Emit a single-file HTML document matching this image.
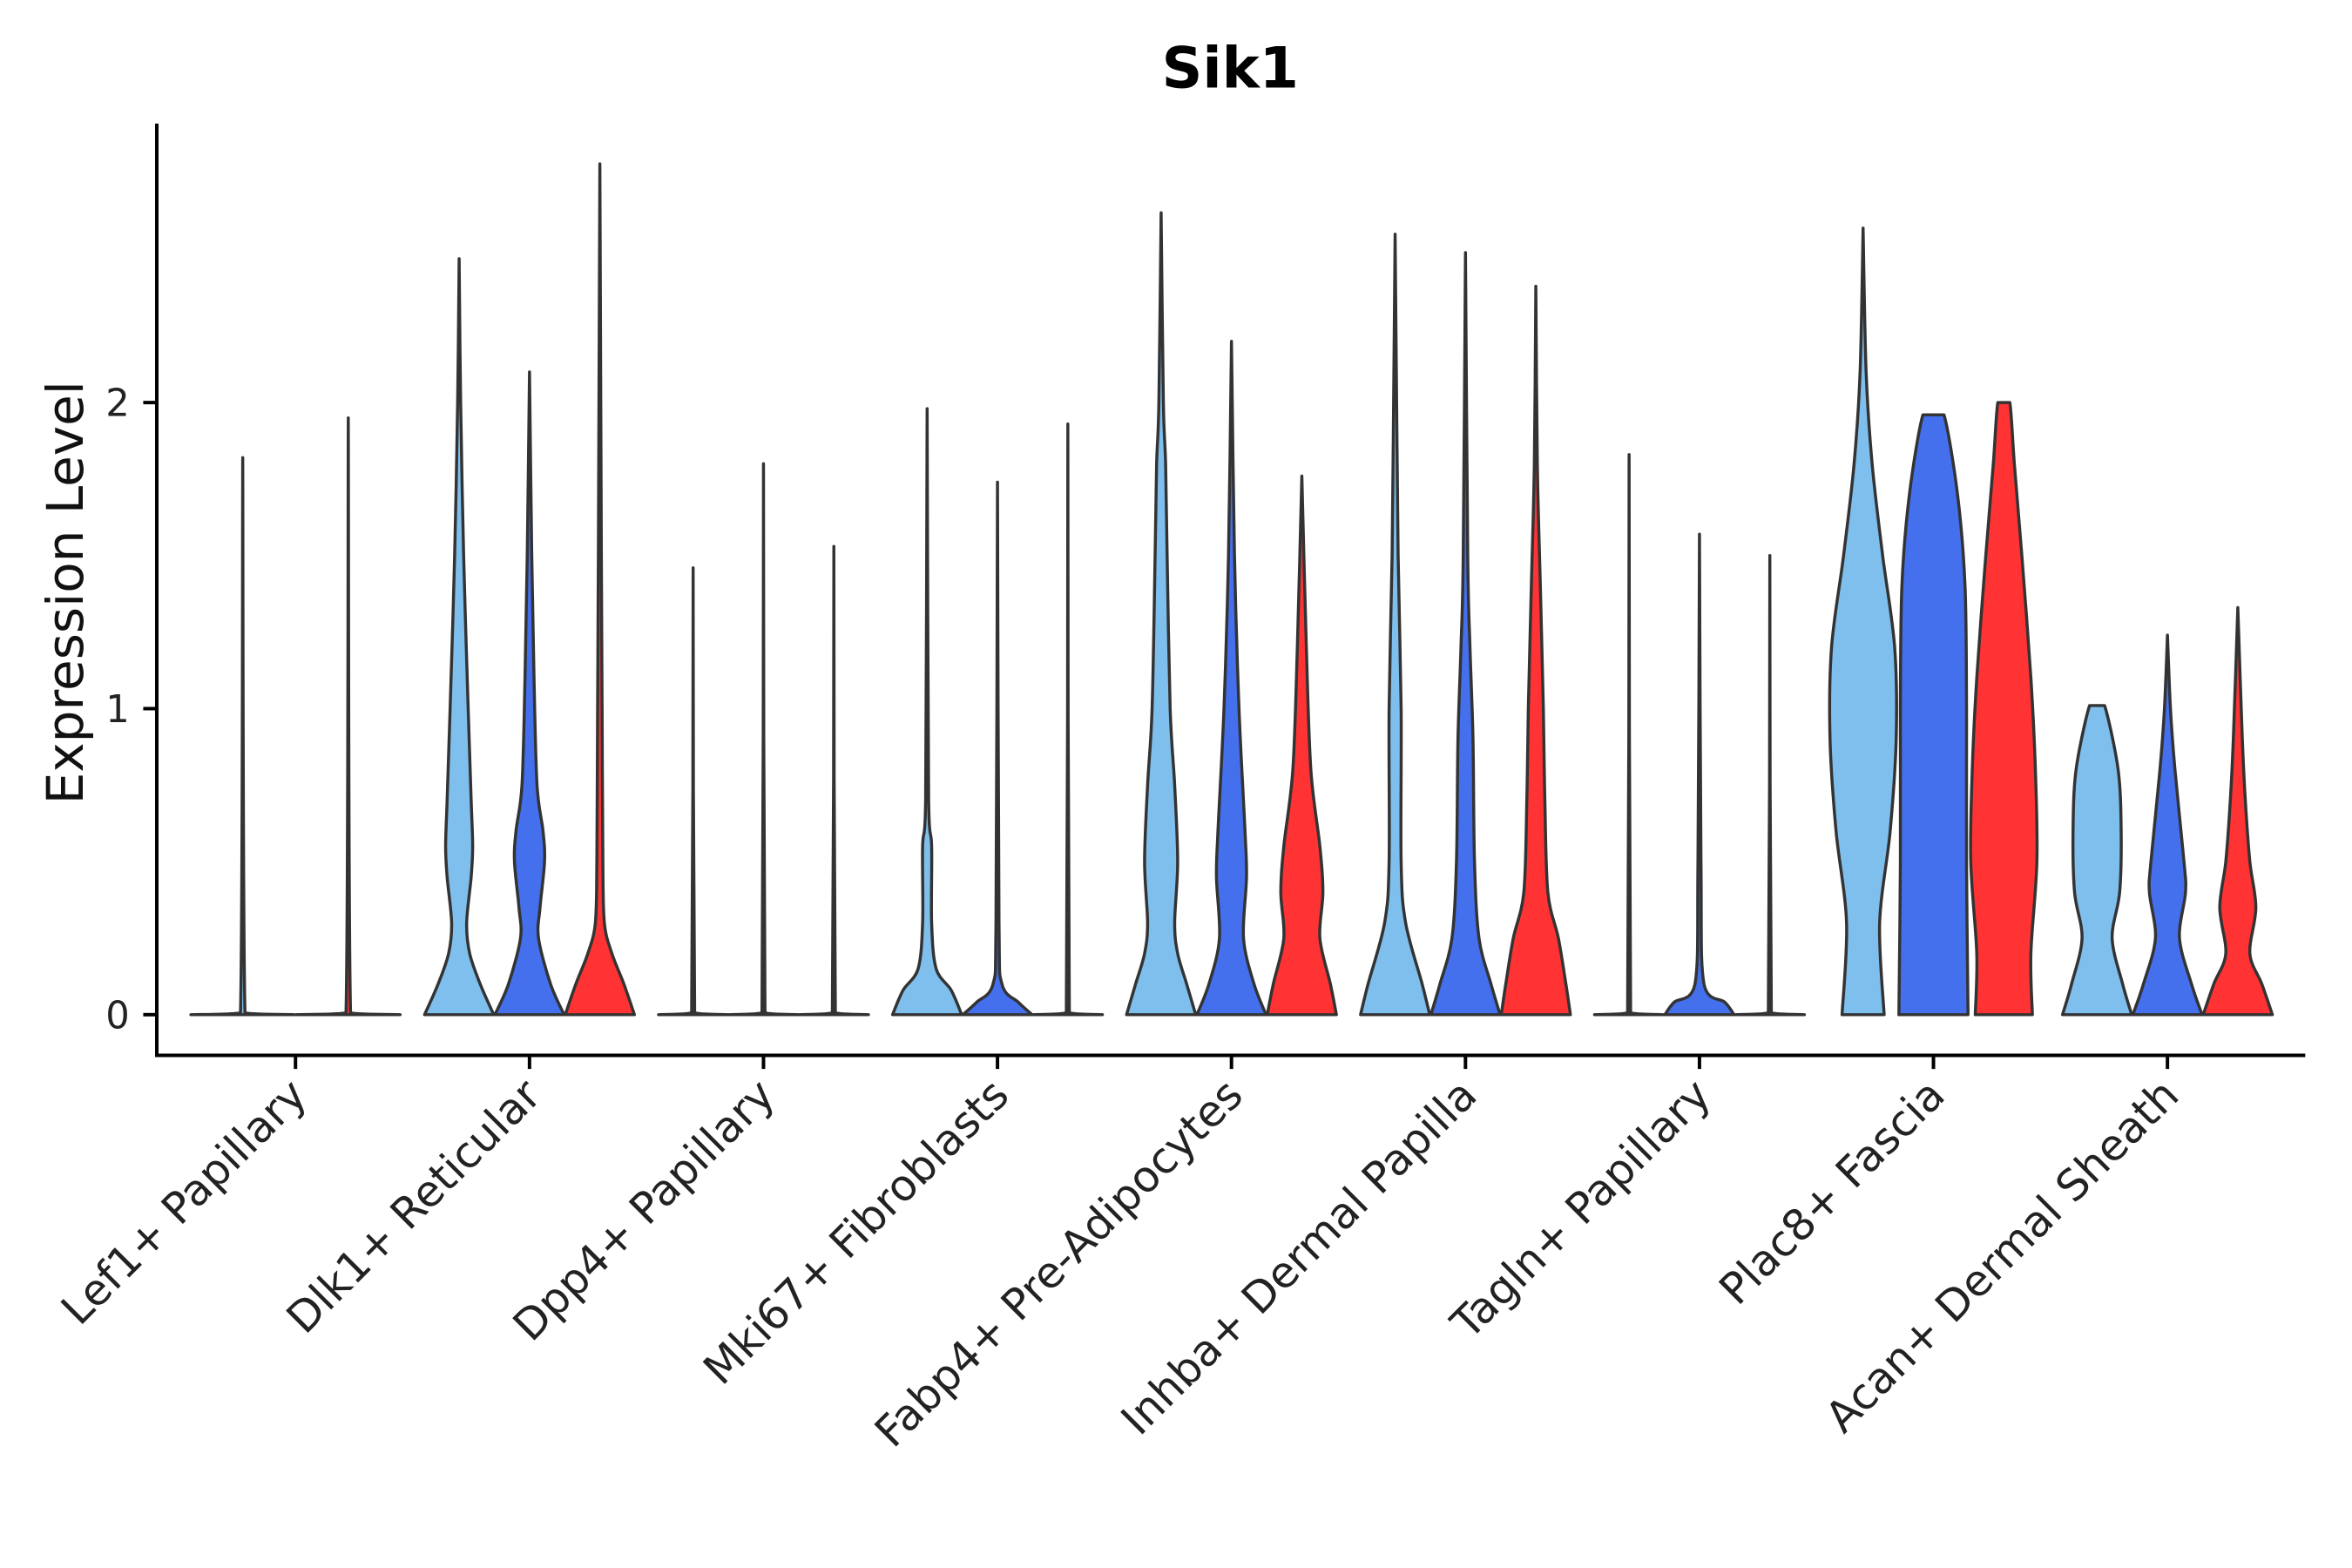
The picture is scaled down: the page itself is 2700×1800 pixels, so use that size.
<!DOCTYPE html>
<html><head><meta charset="utf-8"><style>
html,body{margin:0;padding:0;background:#fff;}
svg{display:block;font-family:"DejaVu Sans","Liberation Sans",sans-serif;}
</style></head><body>
<svg id="chart" width="2700" height="1800" viewBox="0 0 1560 1040" xmlns="http://www.w3.org/2000/svg">
<rect width="1560" height="1040" fill="#fff"/>
<text x="816" y="58" text-anchor="middle" font-size="37.5" font-weight="bold">Sik1</text>
<text transform="translate(55,393) rotate(-90)" text-anchor="middle" font-size="33.5" fill="#111">Expression Level</text>
<g id="marks"></g>
<g id="axes"></g>
</svg>
<script>
const categories = ["Lef1+ Papillary","Dlk1+ Reticular","Dpp4+ Papillary","Mki67+ Fibroblasts","Fabp4+ Pre-Adipocytes","Inhba+ Dermal Papilla","Tagln+ Papillary","Plac8+ Fascia","Acan+ Dermal Sheath"];
const yTicks = [0,1,2];
const seriesColors = ["#7fbfed","#4470ee","#ff3333"];
const flat = m => [[0,23],[0.006,1],[m,0]];
const lightProfiles = [
 flat(1.82),
 [[0,23],[0.1,14],[0.2,7],[0.3,5],[0.45,8],[0.55,9],[0.7,8],[1.0,6],[1.5,3],[2.0,1],[2.47,0]],
 flat(1.46),
 [[0,23],[0.08,16],[0.15,6],[0.3,3],[0.55,3],[0.7,1],[1.98,0]],
 [[0,23],[0.1,17],[0.2,11],[0.3,9],[0.5,11],[0.75,9],[1.0,6],[1.5,4],[1.8,3],[2.0,1.5],[2.62,0]],
 [[0,23],[0.1,18],[0.3,7],[0.5,4],[1.0,4],[1.5,2],[2.0,1],[2.55,0]],
 flat(1.83),
 [[0,14],[0.3,11],[0.6,18],[0.9,22],[1.2,21],[1.5,13],[1.8,6],[2.1,2],[2.57,0]],
 [[0,23],[0.1,17],[0.25,10],[0.4,15],[0.6,16],[0.8,14],[1.01,5],[1.01,0]]
];
const blueProfiles = [
 null,
 [[0,23],[0.1,14],[0.25,6],[0.35,7],[0.5,10],[0.6,9],[0.75,5],[1.1,3],[1.5,1.5],[2.1,0]],
 flat(1.80),
 [[0,23],[0.04,14],[0.1,3],[0.3,1],[1.74,0]],
 [[0,23],[0.1,15],[0.25,8],[0.45,10],[0.6,9],[1.0,5],[1.5,2],[2.2,0]],
 [[0,23],[0.1,17],[0.25,9],[0.5,6],[0.9,5],[1.2,3],[1.5,1.5],[2.49,0]],
 [[0,23],[0.04,17],[0.1,3],[0.5,1],[1.57,0]],
 [[0,23],[0.5,22],[1.0,22],[1.4,21],[1.7,16],[1.96,7],[1.96,0]],
 [[0,23],[0.1,16],[0.25,8],[0.4,12],[0.5,11],[0.8,5],[1.0,2],[1.24,0]]
];
const redProfiles = [
 flat(1.95),
 [[0,23],[0.1,16],[0.2,8],[0.3,3],[0.5,2],[1.0,1.5],[1.5,1],[2.78,0]],
 flat(1.53),
 flat(1.93),
 [[0,23],[0.1,19],[0.25,12],[0.4,14],[0.55,12],[0.8,6],[1.2,3],[1.76,0]],
 [[0,23],[0.1,20],[0.25,15],[0.4,8],[0.7,6],[1.0,5],[1.4,3],[1.8,1],[2.38,0]],
 flat(1.5),
 [[0,19],[0.2,18],[0.5,22],[0.8,21],[1.1,18],[1.5,12],[1.8,7],[2.0,4],[2.0,0]],
 [[0,23],[0.1,16],[0.2,8],[0.35,12],[0.5,8],[0.7,5],[0.9,3],[1.33,0]]
];
const NS="http://www.w3.org/2000/svg";
const y0=673, yUnit=203;
const yScale = v => y0 - v*yUnit;
const band = 155.2;
const xScale = i => 196 + i*band;
const marks=document.getElementById('marks');
const axes=document.getElementById('axes');
const allSeries=[lightProfiles,blueProfiles,redProfiles];
const seriesNames=["light","blue","red"];
const clamp=(v,a,b)=>Math.max(Math.min(a,b),Math.min(Math.max(a,b),v));
function smoothSide(pts,cx,dir){
 let d="";
 for(let k=0;k<pts.length-1;k++){
  const p0=pts[Math.max(0,k-1)],p1=pts[k],p2=pts[k+1],p3=pts[Math.min(pts.length-1,k+2)];
  const t=0.16;
  let c1=[p1[0]+(p2[0]-p0[0])*t,p1[1]+(p2[1]-p0[1])*t];
  let c2=[p2[0]-(p3[0]-p1[0])*t,p2[1]-(p3[1]-p1[1])*t];
  c1[1]=clamp(c1[1],p1[1],p2[1]); c2[1]=clamp(c2[1],p1[1],p2[1]);
  if(dir>0){c1[0]=Math.max(cx,c1[0]);c2[0]=Math.max(cx,c2[0]);}else{c1[0]=Math.min(cx,c1[0]);c2[0]=Math.min(cx,c2[0]);}
  d+=` C${c1[0].toFixed(2)},${c1[1].toFixed(2)} ${c2[0].toFixed(2)},${c2[1].toFixed(2)} ${p2[0].toFixed(2)},${p2[1].toFixed(2)}`;
 }
 return d;
}
categories.forEach((c,i)=>{
 const present=[0,1,2].filter(s=>allSeries[s][i]);
 const n=present.length;
 const slot=140/n;
 const wScale=(slot/2)/23.4;
 present.forEach((s,k)=>{
  const prof=allSeries[s][i];
  const cx=xScale(i)-70+slot*(k+0.5);
  const right=prof.map(p=>[cx+p[1]*wScale, yScale(p[0])]);
  const left=prof.slice().reverse().map(p=>[cx-p[1]*wScale, yScale(p[0])]);
  let d="M"+right[0][0].toFixed(2)+","+right[0][1].toFixed(2)+smoothSide(right,cx,1)+" L"+left[0][0].toFixed(2)+","+left[0][1].toFixed(2)+smoothSide(left,cx,-1)+" Z";
  const path=document.createElementNS(NS,'path');
  path.setAttribute('d',d);
  path.setAttribute('fill',seriesColors[s]);
  path.setAttribute('stroke','#333');
  path.setAttribute('stroke-width','2');
  path.setAttribute('stroke-linejoin','round');
  
  
  marks.appendChild(path);
 });
});
function el(tag,attrs,text){const e=document.createElementNS(NS,tag);for(const k in attrs)e.setAttribute(k,attrs[k]);if(text!==undefined)e.textContent=text;return e;}
const yAxis=el('line',{x1:104,y1:82,x2:104,y2:701,stroke:'#000','stroke-width':2.3});


axes.appendChild(yAxis);
const xAxis=el('line',{x1:103,y1:700,x2:1529,y2:700,stroke:'#000','stroke-width':2.3});


axes.appendChild(xAxis);
yTicks.forEach(t=>{
 const tk=el('line',{x1:95,y1:yScale(t),x2:104,y2:yScale(t),stroke:'#000','stroke-width':2.3});
 
 
 axes.appendChild(tk);
 const lb=el('text',{x:86,y:yScale(t)+9,'text-anchor':'end','font-size':25,fill:'#222'},String(t));
 
 
 axes.appendChild(lb);
});
categories.forEach((c,i)=>{
 const x=xScale(i);
 const tk=el('line',{x1:x,y1:700,x2:x,y2:709,stroke:'#000','stroke-width':2.3});
 
 
 axes.appendChild(tk);
 const lb=el('text',{transform:`translate(${x+9},${728}) rotate(-45)`,'text-anchor':'end','font-size':28.5,fill:'#222'},c);
 
 
 axes.appendChild(lb);
});
</script>
</body></html>
